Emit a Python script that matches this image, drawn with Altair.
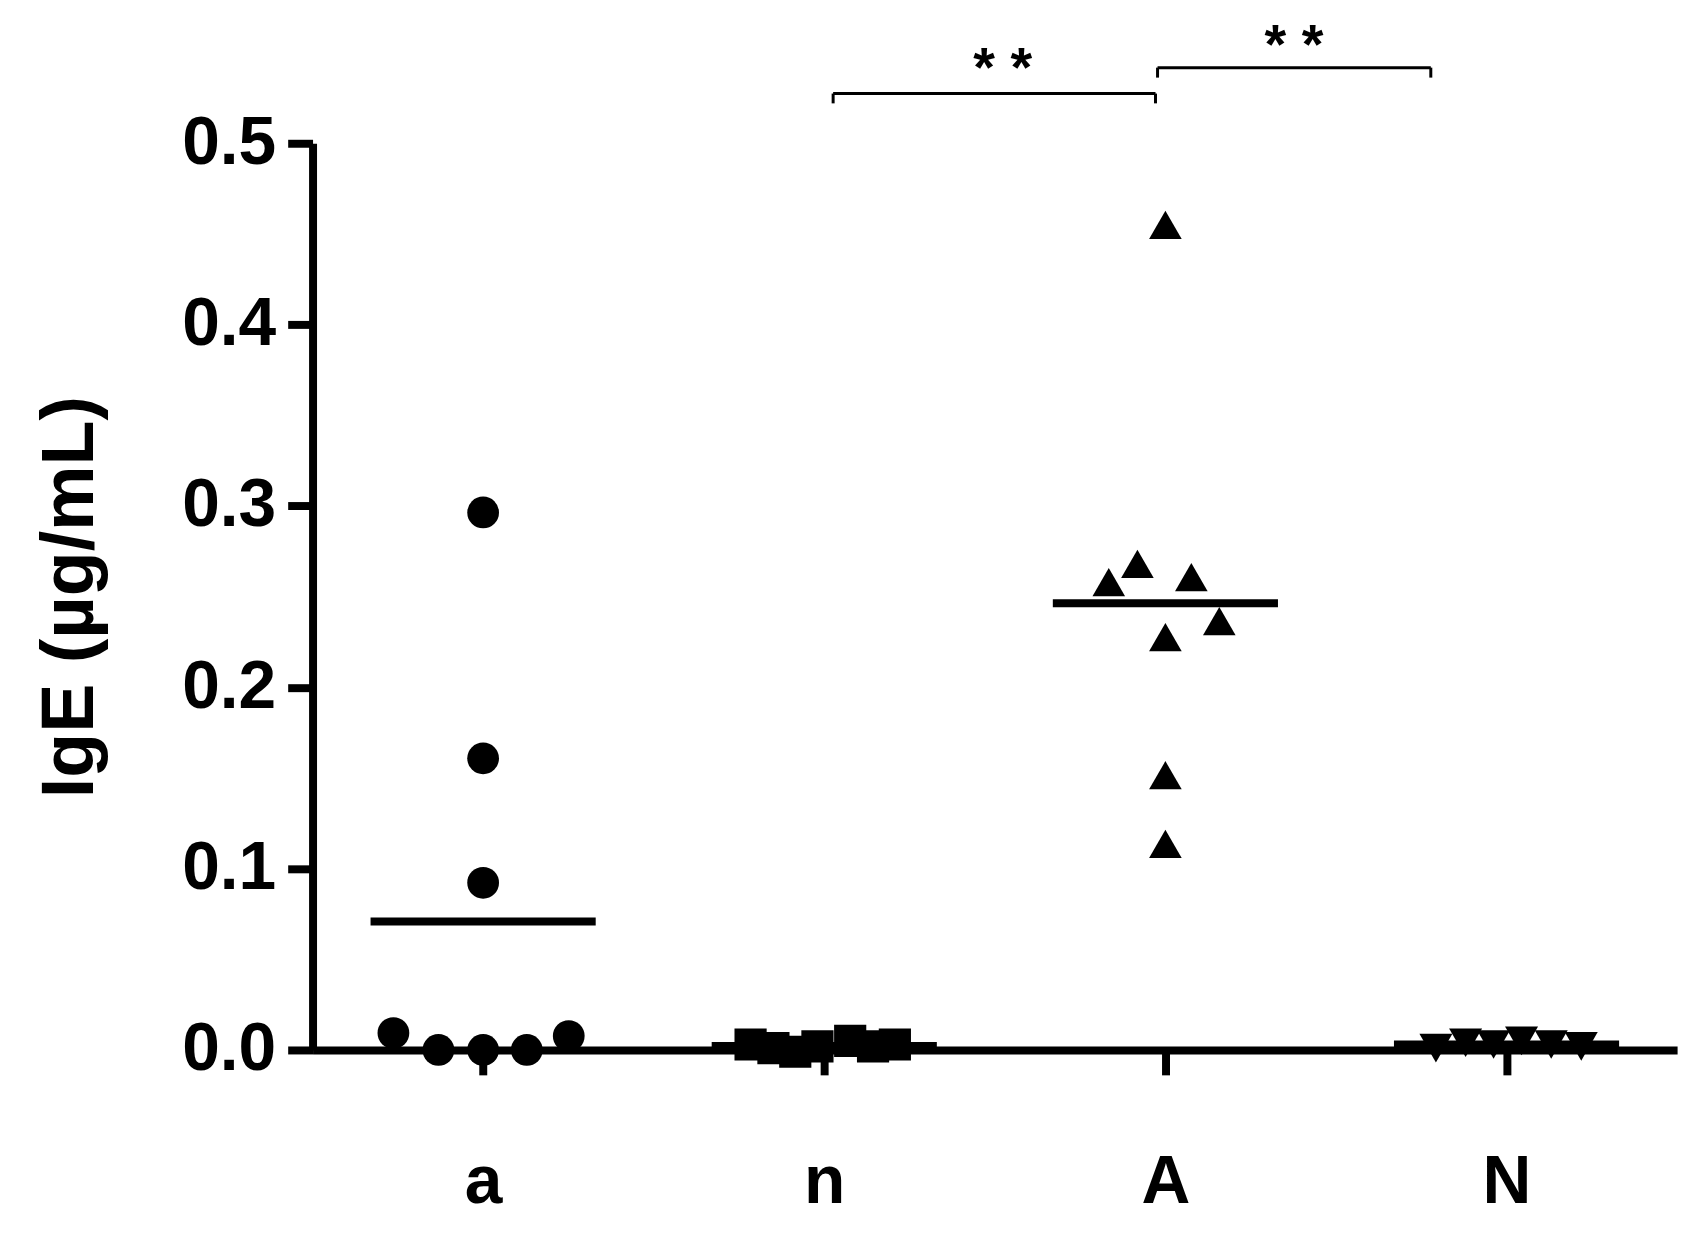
import altair as alt
import pandas as pd

# ---- data ----
groups = ["a", "n", "A", "N"]
shapes = ["circle", "square", "triangle-up", "triangle-down"]
symbol_sizes = [1018, 1100, 1350, 1350]

a_values = [0.2964, 0.1608, 0.0922, 0.0093, 0.0, 0.0, 0.0, 0.0077]
a_jitter = [0.0, 0.0, 0.0, -0.263, -0.131, 0.0, 0.128, 0.251]

n_values = [0.003, 0.001, -0.001, 0.002, 0.005, 0.002, 0.003]
n_jitter = [-0.216, -0.149, -0.085, -0.020, 0.076, 0.143, 0.207]

A_values = [0.455, 0.258, 0.268, 0.2607, 0.2365, 0.2277, 0.1515, 0.1136]
A_jitter = [0.0, -0.166, -0.082, 0.076, 0.158, 0.0, 0.0, 0.0]

N_values = [0.001, 0.004, 0.003, 0.005, 0.003, 0.002]
N_jitter = [-0.207, -0.120, -0.038, 0.044, 0.131, 0.219]

y_ticks = [0.0, 0.1, 0.2, 0.3, 0.4, 0.5]
y_title = "IgE (µg/mL)"

# significance brackets (category units on x, data units on y)
bracket_start = [2.026, 2.977]
bracket_end = [2.971, 3.778]
bracket_level = [0.5274, 0.5417]
bracket_leg = [0.522, 0.5362]
star_x = [2.523, 3.377]
star_y = [0.5317, 0.5443]
star_text = ["* *", "* *"]

mean_halfwidth = 0.33

# ---- tables ----
rows = []
for gi, (g, vals, jit) in enumerate(zip(groups, [a_values, n_values, A_values, N_values],
                                        [a_jitter, n_jitter, A_jitter, N_jitter])):
    for v, j in zip(vals, jit):
        rows.append({"group": g, "value": v, "xpos": gi + 1 + j})
pts = pd.DataFrame(rows)

means = pts.groupby("group", sort=False)["value"].mean().reset_index()
means["gi"] = means["group"].map({g: i + 1 for i, g in enumerate(groups)})
means["x1"] = means["gi"] - mean_halfwidth
means["x2"] = means["gi"] + mean_halfwidth

br = pd.DataFrame({"x1": bracket_start, "x2": bracket_end, "y": bracket_level, "yl": bracket_leg})
legs = pd.DataFrame({
    "x": bracket_start + bracket_end,
    "y": bracket_level + bracket_level,
    "yl": bracket_leg + bracket_leg,
})
stars = pd.DataFrame({"x": star_x, "y": star_y, "t": star_text})

FONT = "Liberation Sans"
label_expr = "[" + ",".join("'" + g + "'" for g in groups) + "][datum.value - 1]"

xscale = alt.Scale(domain=[0.5, 4.5], nice=False, zero=False)
yscale = alt.Scale(domain=[0, 0.5], nice=False, zero=False)

x_axis = alt.Axis(values=[1, 2, 3, 4], labelExpr=label_expr, title=None, grid=False,
                  domainWidth=8, domainColor="black", tickWidth=8, tickSize=25,
                  tickColor="black", labelFont=FONT, labelFontWeight="bold",
                  labelFontSize=68, labelPadding=74, labelColor="black",
                  labelFlush=False, labelOverlap=False)
y_axis = alt.Axis(values=y_ticks, format=".1f", title=y_title, grid=False,
                  domainWidth=8, domainColor="black", tickWidth=8, tickSize=25,
                  tickColor="black", labelFont=FONT, labelFontWeight="bold",
                  labelFontSize=68, labelPadding=12, labelColor="black",
                  labelFlush=False, labelOverlap=False,
                  titleFont=FONT, titleFontWeight="bold", titleFontSize=74,
                  titleColor="black", titleX=-221, titleBaseline="alphabetic",
                  titleAngle=270)

points = alt.Chart(pts).mark_point(filled=True, opacity=1, color="black", strokeWidth=0).encode(
    x=alt.X("xpos:Q", scale=xscale, axis=x_axis),
    y=alt.Y("value:Q", scale=yscale, axis=y_axis),
    shape=alt.Shape("group:N", scale=alt.Scale(domain=groups, range=shapes), legend=None),
    size=alt.Size("group:N", scale=alt.Scale(domain=groups, range=symbol_sizes), legend=None),
)

mean_lines = alt.Chart(means).mark_rule(color="black", strokeWidth=8).encode(
    x=alt.X("x1:Q", scale=xscale), x2="x2:Q", y=alt.Y("value:Q", scale=yscale)
)

bracket_h = alt.Chart(br).mark_rule(color="black", strokeWidth=3).encode(
    x=alt.X("x1:Q", scale=xscale), x2="x2:Q", y=alt.Y("y:Q", scale=yscale)
)
bracket_v = alt.Chart(legs).mark_rule(color="black", strokeWidth=3).encode(
    x=alt.X("x:Q", scale=xscale), y=alt.Y("y:Q", scale=yscale), y2="yl:Q"
)
star_marks = alt.Chart(stars).mark_text(font=FONT, fontWeight="bold", fontSize=56,
                                        color="black", baseline="alphabetic", align="center").encode(
    x=alt.X("x:Q", scale=xscale), y=alt.Y("y:Q", scale=yscale), text="t:N"
)

chart = alt.layer(mean_lines, points, bracket_h, bracket_v, star_marks).properties(
    width=1371, height=911,
    padding={"left": 306, "top": 133, "right": 21, "bottom": 181},
    autosize=alt.AutoSizeParams(type="none"),
    background="white",
).configure_view(stroke=None)

chart.save("out.html", embed_options={"renderer": "svg", "actions": False})
